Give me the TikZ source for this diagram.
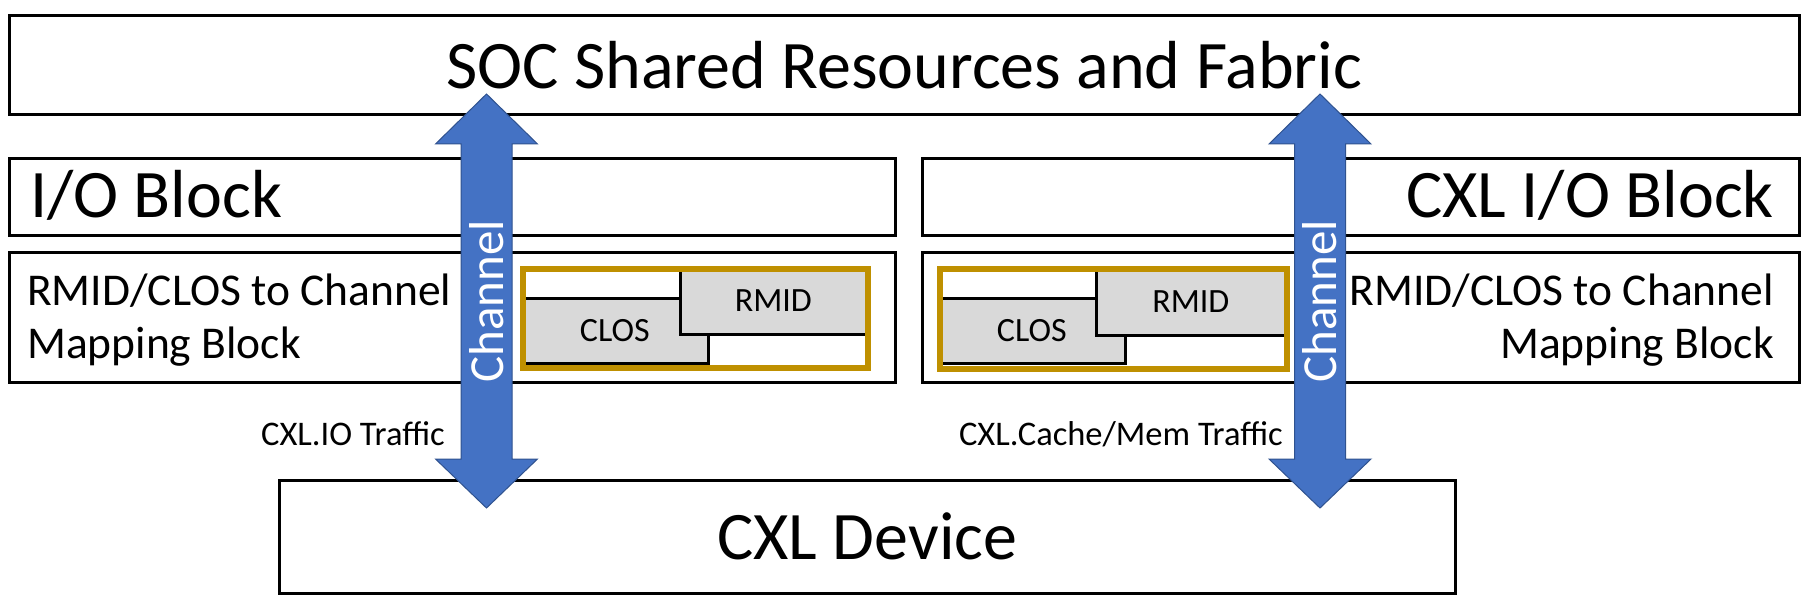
\documentclass[tikz,border=0pt]{standalone}
\usepackage{fontspec}
\setmainfont{Carlito}
\usetikzlibrary{calc}
\definecolor{chanblue}{HTML}{4472C4}
\definecolor{chanedge}{HTML}{2F528F}
\definecolor{goldc}{HTML}{BF9000}
\definecolor{greyc}{HTML}{D9D9D9}
\begin{document}
\begin{tikzpicture}[x=1pt,y=-1pt,
  box/.style={draw=black, line width=2.6pt, fill=white, rectangle, inner sep=0pt, anchor=north west},
  cell/.style={draw=black, line width=2.6pt, fill=greyc, rectangle, inner sep=0pt, anchor=north west, font=\fontsize{34}{40}\selectfont},
  goldbox/.style={draw=goldc, line width=6pt, rectangle, inner sep=0pt, anchor=north west},
  bigtxt/.style={inner sep=0pt, font=\fontsize{68}{80}\selectfont},
  midtxt/.style={inner sep=0pt, font=\fontsize{45.5}{53}\selectfont},
  smalltxt/.style={inner sep=0pt, font=\fontsize{34.5}{40}\selectfont},
  chantxt/.style={inner sep=0pt, text=white, font=\fontsize{49}{58}\selectfont},
  chan/.style={fill=chanblue, draw=chanedge, line width=1pt, line join=miter}]
\useasboundingbox (0,0) rectangle (1804,604);

% top shared block
\node[box, minimum width=1790, minimum height=99, font=\fontsize{68}{80}\selectfont] (soc) at (8,14) {SOC Shared Resources and Fabric};

% I/O blocks
\node[box, minimum width=886, minimum height=77] (io) at (8,157) {};
\node[bigtxt, anchor=base west] (iot) at (30,218) {I/O Block};
\node[box, minimum width=877, minimum height=77] (cxlio) at (921,157) {};
\node[bigtxt, anchor=base east] (cxliot) at (1774,218) {CXL I/O Block};

% mapping blocks
\node[box, minimum width=886, minimum height=130] (mapl) at (8,251) {};
\node[midtxt, anchor=base west] (mapla) at (27,305) {RMID/CLOS to Channel};
\node[midtxt, anchor=base west] (maplb) at (27,358) {Mapping Block};
\node[box, minimum width=877, minimum height=130] (mapr) at (921,251) {};
\node[midtxt, anchor=base east] (mapra) at (1774,305) {RMID/CLOS to Channel};
\node[midtxt, anchor=base east] (maprb) at (1774,358) {Mapping Block};

% left table
\node[cell, minimum width=187, minimum height=65] (closl) at (520,297) {CLOS};
\node[cell, minimum width=186, minimum height=67] (rmidl) at (679,266) {RMID};
\node[goldbox, minimum width=345, minimum height=99] (goldl) at (520,266) {};

% right table
\node[cell, minimum width=187, minimum height=65] (closr) at (937,297) {CLOS};
\node[cell, minimum width=189, minimum height=68] (rmidr) at (1095,266) {RMID};
\node[goldbox, minimum width=347, minimum height=100] (goldr) at (937,266) {};

% device
\node[box, minimum width=1176, minimum height=113, font=\fontsize{68}{80}\selectfont] (dev) at (278,479) {CXL Device};

% traffic labels
\node[smalltxt, anchor=base east] (iotraffic) at (445,445) {CXL.IO Traffic};
\node[smalltxt, anchor=base east] (cmtraffic) at (1283,445) {CXL.Cache/Mem Traffic};

% channel arrows
\coordinate (LT) at (486.5,94);
\coordinate (LB) at (486.5,508);
\coordinate (RT) at (1320,94);
\coordinate (RB) at (1320,508);
\foreach \t/\b in {LT/LB, RT/RB}{
  \draw[chan] (\t) -- ($(\t)+(51,50)$) -- ($(\t)+(25.5,50)$) -- ($(\b)+(25.5,-49)$)
    -- ($(\b)+(51,-49)$) -- (\b) -- ($(\b)+(-51,-49)$) -- ($(\b)+(-25.5,-49)$)
    -- ($(\t)+(-25.5,50)$) -- ($(\t)+(-51,50)$) -- cycle;
}
\node[chantxt, rotate=90] (chl) at (486.5,301.5) {Channel};
\node[chantxt, rotate=90] (chr) at (1320,301.5) {Channel};
\end{tikzpicture}
\end{document}
